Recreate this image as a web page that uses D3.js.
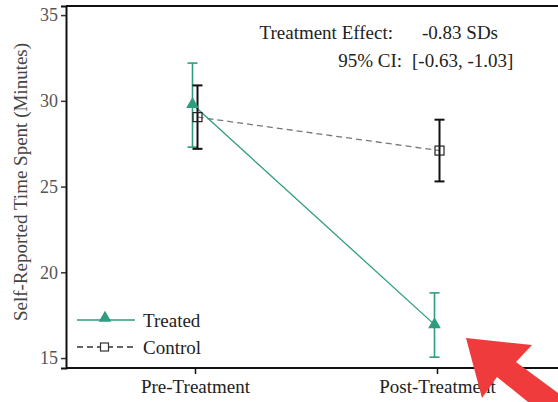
<!DOCTYPE html>
<html>
<head>
<meta charset="utf-8">
<script src="https://cdn.jsdelivr.net/npm/d3@7"></script>
<style>
  body { margin: 0; background: #fff; }
  svg text { font-family: "Liberation Serif", "Times New Roman", serif; }
</style>
</head>
<body>
<div id="chart"></div>
<script>
"use strict";

// data
const categories = ["Pre-Treatment", "Post-Treatment"];
const treatedMean = [29.8, 16.95];
const treatedLow  = [27.3, 15.05];
const treatedHigh = [32.2, 18.8];
const controlMean = [29.05, 27.1];
const controlLow  = [27.2, 25.3];
const controlHigh = [30.9, 28.9];
const yTicks = [15, 20, 25, 30, 35];

const width = 558, height = 402;
const teal = "#2f9c80";

const svg = d3.select("#chart").append("svg")
  .attr("width", width).attr("height", height);

const x = d3.scalePoint().domain(categories).range([195, 437]);
const y = d3.scaleLinear().domain([14.42, 35.53]).range([368, 6]);

// frame: top, left, bottom
svg.append("line").attr("x1", 66).attr("x2", width).attr("y1", 6).attr("y2", 6)
  .attr("stroke", "#111").attr("stroke-width", 2);

const yAxis = svg.append("g")
  .attr("transform", "translate(66,0)")
  .call(d3.axisLeft(y).tickValues(yTicks).tickSize(5).tickPadding(3));
yAxis.select(".domain").attr("stroke", "#111").attr("stroke-width", 2);
yAxis.selectAll(".tick line").attr("stroke", "#333").attr("stroke-width", 1.5);
yAxis.selectAll(".tick text").attr("fill", "#555").style("font-size", "18px")
  .style("font-family", "'Liberation Serif', serif");

const xAxis = svg.append("g")
  .attr("transform", "translate(0,368)")
  .call(d3.axisBottom(x).tickSize(6).tickPadding(6));
xAxis.select(".domain").attr("d", "M66,0H" + width).attr("stroke", "#111").attr("stroke-width", 2);
xAxis.selectAll(".tick line").attr("stroke", "#111").attr("stroke-width", 1.5);
xAxis.selectAll(".tick text").attr("fill", "#222").style("font-size", "19px")
  .style("font-family", "'Liberation Serif', serif");

// y title
svg.append("text")
  .attr("transform", "translate(27,182) rotate(-90)")
  .attr("text-anchor", "middle")
  .attr("fill", "#444")
  .style("font-size", "19px")
  .text("Self-Reported Time Spent (Minutes)");

const off = { treated: -2.5, control: 2.5 };

// connecting lines
const line = d3.line().x(d => d[0]).y(d => d[1]);
svg.append("path")
  .attr("d", line(categories.map((c, i) => [x(c) + off.control, y(controlMean[i])])))
  .attr("fill", "none").attr("stroke", "#777").attr("stroke-width", 1.3)
  .attr("stroke-dasharray", "6,4");
svg.append("path")
  .attr("d", line(categories.map((c, i) => [x(c) + off.treated, y(treatedMean[i])])))
  .attr("fill", "none").attr("stroke", teal).attr("stroke-width", 1.3);

function errorBars(lo, hi, dx, color, sw) {
  const g = svg.append("g").attr("stroke", color).attr("stroke-width", sw);
  categories.forEach((c, i) => {
    const cx = x(c) + dx;
    g.append("line").attr("x1", cx).attr("x2", cx).attr("y1", y(lo[i])).attr("y2", y(hi[i]));
    g.append("line").attr("x1", cx - 5).attr("x2", cx + 5).attr("y1", y(lo[i])).attr("y2", y(lo[i]));
    g.append("line").attr("x1", cx - 5).attr("x2", cx + 5).attr("y1", y(hi[i])).attr("y2", y(hi[i]));
  });
}
errorBars(treatedLow, treatedHigh, off.treated, teal, 1.6);
errorBars(controlLow, controlHigh, off.control, "#111", 2);

const tri = d3.symbol().type(d3.symbolTriangle).size(70);
svg.selectAll(".tri").data(categories).enter().append("path")
  .attr("class", "tri")
  .attr("transform", (c, i) => `translate(${x(c) + off.treated},${y(treatedMean[i])})`)
  .attr("d", tri).attr("fill", teal);

svg.selectAll(".sq").data(categories).enter().append("rect")
  .attr("class", "sq")
  .attr("x", c => x(c) + off.control - 4.5)
  .attr("y", (c, i) => y(controlMean[i]) - 4.5)
  .attr("width", 9).attr("height", 9)
  .attr("fill", "none").attr("stroke", "#222").attr("stroke-width", 1.2);

// legend
const leg = svg.append("g");
leg.append("line").attr("x1", 77).attr("x2", 135).attr("y1", 320).attr("y2", 320)
  .attr("stroke", teal).attr("stroke-width", 1.5);
leg.append("path").attr("transform", "translate(105,318)").attr("d", tri).attr("fill", teal);
leg.append("line").attr("x1", 77).attr("x2", 135).attr("y1", 347).attr("y2", 347)
  .attr("stroke", "#333").attr("stroke-width", 1.3).attr("stroke-dasharray", "6,4");
leg.append("rect").attr("x", 100.5).attr("y", 343).attr("width", 8).attr("height", 8)
  .attr("fill", "#fff").attr("stroke", "#333").attr("stroke-width", 1.2);
leg.append("text").attr("x", 143).attr("y", 327).attr("fill", "#222")
  .style("font-size", "19px").text("Treated");
leg.append("text").attr("x", 143).attr("y", 354).attr("fill", "#222")
  .style("font-size", "19px").text("Control");

// annotation
const ann = svg.append("g").attr("fill", "#222").style("font-size", "19px");
ann.append("text").attr("x", 393).attr("y", 39).attr("text-anchor", "end").text("Treatment Effect:");
ann.append("text").attr("x", 422).attr("y", 39).text("-0.83 SDs");
ann.append("text").attr("x", 402).attr("y", 67).attr("text-anchor", "end").text("95% CI:");
ann.append("text").attr("x", 412).attr("y", 67).text("[-0.63, -1.03]");

// red arrow pointing at the post-treatment drop
svg.append("path")
  .attr("d", "M466,338L532,345L516,362L562,396L562,410L538,410L497,377L482,398Z")
  .attr("fill", "#ef3b3b");
</script>
</body>
</html>
